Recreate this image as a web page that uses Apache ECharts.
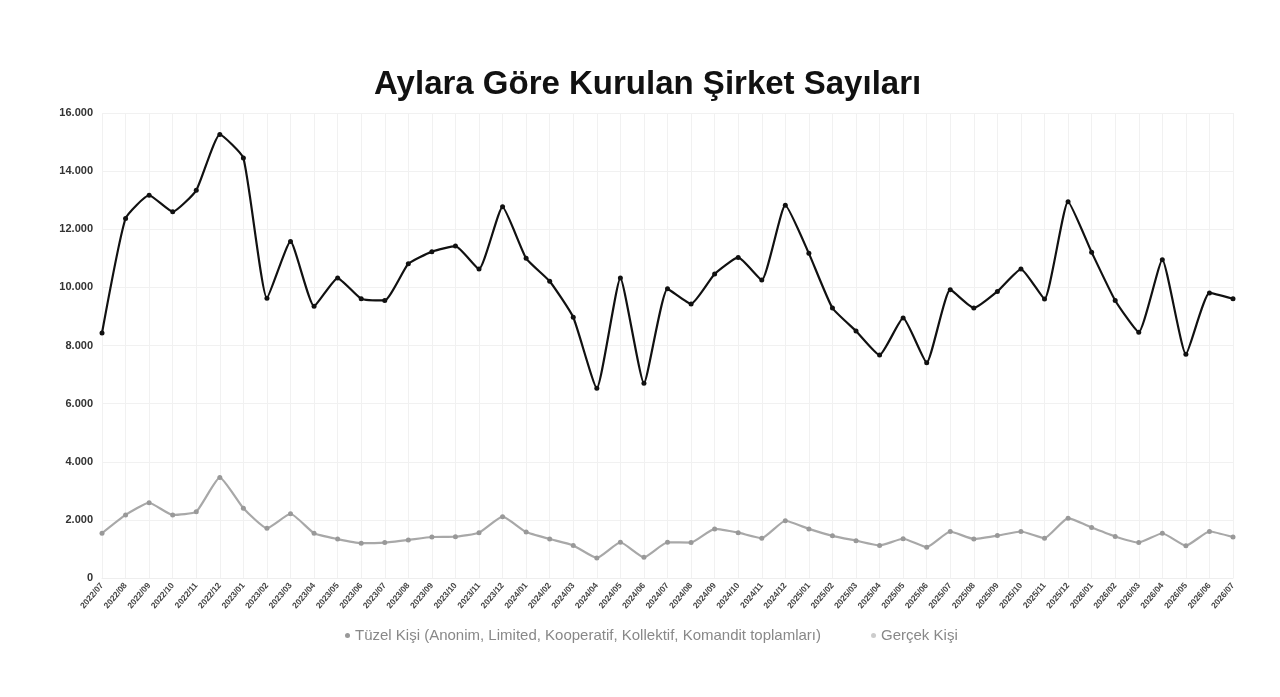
<!DOCTYPE html>
<html><head><meta charset="utf-8">
<script src="https://cdn.jsdelivr.net/npm/echarts@6/dist/echarts.min.js"></script>
<style>html,body{margin:0;padding:0;background:#fff}#c{width:1280px;height:697px}</style>
</head><body><div id="c"></div>
<script>
const categories = ["2022/07","2022/08","2022/09","2022/10","2022/11","2022/12",
"2023/01","2023/02","2023/03","2023/04","2023/05","2023/06","2023/07","2023/08","2023/09","2023/10","2023/11","2023/12",
"2024/01","2024/02","2024/03","2024/04","2024/05","2024/06","2024/07","2024/08","2024/09","2024/10","2024/11","2024/12",
"2025/01","2025/02","2025/03","2025/04","2025/05","2025/06","2025/07","2025/08","2025/09","2025/10","2025/11","2025/12",
"2026/01","2026/02","2026/03","2026/04","2026/05","2026/06","2026/07"];
const tuzelKisi = [8430,12370,13170,12600,13340,15260,14450,9630,11580,9350,10320,9610,9550,10810,11230,11420,
10630,12770,11000,10210,8970,6530,10320,6700,9950,9430,10460,11030,10250,12830,11170,9290,8500,
7670,8950,7410,9920,9290,9860,10630,9600,12950,11210,9550,8460,10950,7700,9810,9610];
const gercekKisi = [1540,2170,2590,2170,2280,3460,2400,1710,2210,1540,1340,1200,1220,1310,1410,1420,
1560,2110,1580,1340,1120,690,1230,710,1230,1220,1690,1560,1370,1970,1690,1450,1285,
1120,1350,1060,1600,1340,1460,1600,1370,2060,1740,1430,1220,1540,1110,1600,1410];
const yTicks = [0,2000,4000,6000,8000,10000,12000,14000,16000];

const chart = echarts.init(document.getElementById('c'));
chart.setOption({
  animation:false,
  title:{text:'Aylara Göre Kurulan Şirket Sayıları',left:369,top:63,
    textStyle:{fontFamily:'Liberation Sans, Arial',fontSize:33,fontWeight:'bold',color:'#111'}},
  legend:{bottom:49,left:340,itemWidth:5,itemHeight:5,itemGap:50,icon:'circle',
    textStyle:{fontFamily:'Liberation Sans, Arial',fontSize:15,color:'#888'},
    data:[{name:'Tüzel Kişi (Anonim, Limited, Kooperatif, Kollektif, Komandit toplamları)',itemStyle:{color:'#999'}},
          {name:'Gerçek Kişi',itemStyle:{color:'#ccc'}}]},
  grid:{left:102,right:47,top:113,bottom:119,containLabel:false},
  xAxis:{type:'category',data:categories,boundaryGap:false,
    axisLine:{show:true,lineStyle:{color:'#eee'}},axisTick:{show:false},
    axisLabel:{interval:0,rotate:50,fontSize:8.5,fontWeight:'bold',color:'#444',margin:6,fontFamily:'Liberation Sans, Arial'},
    splitLine:{show:true,lineStyle:{color:'#f1f1f1',width:1}}},
  yAxis:{type:'value',min:yTicks[0],max:yTicks[yTicks.length-1],interval:2000,
    axisLine:{show:false},axisTick:{show:false},
    axisLabel:{fontSize:11,fontWeight:'bold',color:'#333',margin:9,fontFamily:'Liberation Sans, Arial',
      formatter:v=>v.toString().replace(/\B(?=(\d{3})+(?!\d))/g,'.')},
    splitLine:{lineStyle:{color:'#f1f1f1'}}},
  series:[
    {name:'Tüzel Kişi (Anonim, Limited, Kooperatif, Kollektif, Komandit toplamları)',type:'line',data:tuzelKisi,
     smooth:0.15,symbol:'circle',symbolSize:5,lineStyle:{color:'#111',width:2.2},itemStyle:{color:'#111'}},
    {name:'Gerçek Kişi',type:'line',data:gercekKisi,
     smooth:0.15,symbol:'circle',symbolSize:5,lineStyle:{color:'#a8a8a8',width:2.2},itemStyle:{color:'#999'}}
  ]
});
</script></body></html>
